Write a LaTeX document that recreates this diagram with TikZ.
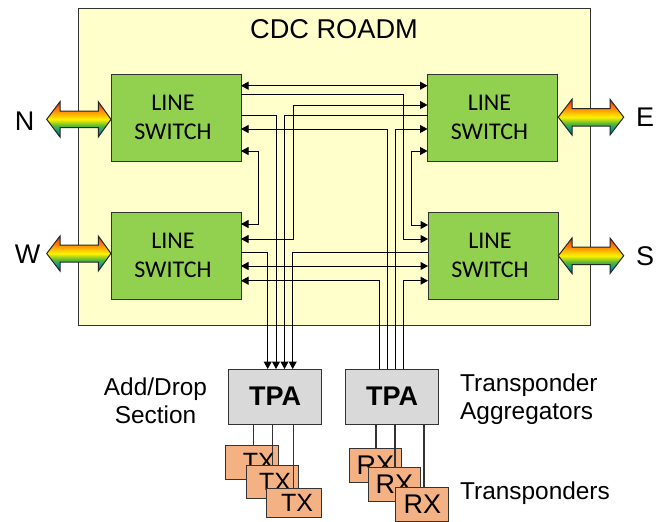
\documentclass[tikz,border=0pt]{standalone}
\usepackage{fontspec}
\setmainfont{Liberation Sans}
\newfontfamily\calib{Carlito}
\usetikzlibrary{arrows.meta}
\definecolor{panelfill}{HTML}{FFFFCC}
\definecolor{switchfill}{HTML}{92D050}
\definecolor{tpafill}{HTML}{D9D9D9}
\definecolor{xcvrfill}{HTML}{F4B183}
\definecolor{edge}{HTML}{333333}
\pgfdeclareverticalshading{rainbowv}{100bp}{
 rgb(0bp)=(0,0.30,0.80);
 rgb(25bp)=(0,0.30,0.80);
 rgb(33bp)=(0,0.60,0.55);
 rgb(41bp)=(0.35,0.72,0.20);
 rgb(50bp)=(1,0.95,0);
 rgb(59bp)=(1,0.65,0);
 rgb(68bp)=(1,0.35,0.05);
 rgb(75bp)=(0.90,0.10,0.10);
 rgb(100bp)=(0.90,0.10,0.10)}
\tikzset{
 panel/.style={draw=edge,line width=1pt,fill=panelfill},
 switchbox/.style={draw=edge,line width=1pt,fill=switchfill,minimum width=130pt,minimum height=87pt,outer sep=0pt,align=center,font=\calib\fontsize{24}{29.5}\selectfont},
 tpabox/.style={draw=edge,line width=1pt,fill=tpafill,minimum width=93pt,minimum height=55pt,outer sep=0pt,font=\fontsize{27}{30}\selectfont\bfseries},
 xcvr/.style={draw=edge,line width=1pt,fill=xcvrfill,outer sep=0pt,inner sep=0pt,font=\fontsize{25}{30}\selectfont},
 rxbox/.style={xcvr,font=\fontsize{27}{30}\selectfont},
 lbl/.style={font=\fontsize{27}{30}\selectfont},
 side/.style={font=\fontsize{24.4}{28.5}\selectfont,inner sep=0pt},
 link/.style={draw=black,line width=1pt},
 tip/.style={link,-{Triangle[length=7.5pt,width=8pt]}},
 tips/.style={link,{Triangle[length=7.5pt,width=8pt]}-{Triangle[length=7.5pt,width=8pt]}},
 drop/.style={draw=edge,line width=1.2pt},
 rainbow/.style={shading=rainbowv,draw=black!85,line width=1pt,line join=miter},
}
\newcommand{\bigarrow}[8]{% x1 b1 b2 x2 ytop shtop shbot ybot
 \path[rainbow] (#1,{(#5+#8)/2}) -- (#2,#5) -- (#2,#6) -- (#3,#6) -- (#3,#5) -- (#4,{(#5+#8)/2}) -- (#3,#8) -- (#3,#7) -- (#2,#7) -- (#2,#8) -- cycle;}
\newcommand{\swtext}{\hspace*{-6pt}LINE\\\hspace*{-6pt}SWITCH}
\begin{document}
\begin{tikzpicture}[x=1pt,y=-1pt]
\useasboundingbox (0,0) rectangle (670,522);
\path[panel] (78,8) rectangle (590,325.5);
\node[font=\fontsize{27.2}{30}\selectfont] (title) at (334,29) {CDC ROADM};
% switches
\node[switchbox] (tl) at (176,117.5) {\swtext};
\node[switchbox] (tr) at (492.5,117.5) {\swtext};
\node[switchbox] (bl) at (176,255.5) {\swtext};
\node[switchbox] (br) at (493,255.5) {\swtext};
% aggregators
\node[tpabox] (tpaL) at (275,396.5) {TPA};
\node[tpabox] (tpaR) at (392,396.5) {TPA};
% switch to switch
\draw[tips] (tl.east |- 0,85.7) -- (tr.west |- 0,85.7);
\draw[tips] (tl.east |- 0,266) -- (br.west |- 0,266);
\draw[tips] (tl.east |- 0,151) -| (258,224) -- (bl.east |- 0,224);
\draw[tips] (tr.west |- 0,151) -| (411,225) -- (br.west |- 0,225);
\draw[tips] (tr.west |- 0,105) -| (293,239) -- (bl.east |- 0,239);
\draw[tip] (tl.east |- 0,94.7) -| (403,239) -- (br.west |- 0,239);
% to left TPA
\draw[tip] (tl.east |- 0,115) -| (tpaL.north -| 276,0);
\draw[tip] (tr.west |- 0,115) -| (tpaL.north -| 284.5,0);
\draw[tip] (bl.east |- 0,252.7) -| (tpaL.north -| 267.7,0);
\draw[tip] (br.west |- 0,252.7) -| (tpaL.north -| 292.7,0);
% from right TPA
\draw[tip] (tpaR.north -| 387,0) |- (tl.east |- 0,129);
\draw[tip] (tpaR.north -| 395.7,0) |- (tr.west |- 0,129);
\draw[tip] (tpaR.north -| 379,0) |- (bl.east |- 0,280.7);
\draw[tip] (tpaR.north -| 403.7,0) |- (br.west |- 0,280.7);
% rainbow arrows
\bigarrow{46.7}{60}{98.3}{111}{101.7}{111}{127.7}{137}
\bigarrow{46.7}{60}{98.3}{111}{236}{245}{262}{271}
\bigarrow{558.3}{572}{610}{623.7}{99.3}{108.7}{126}{135}
\bigarrow{558.3}{572}{610}{623.7}{238}{247}{264.5}{273.5}
\node[lbl] (n) at (24.5,121.3) {N};
\node[lbl] (w) at (27.5,254.3) {W};
\node[lbl] (e) at (645,117.7) {E};
\node[lbl] (s) at (645,256) {S};
% transponders
\node[xcvr,minimum width=53pt,minimum height=34pt] (tx1) at (252.3,462) {\hspace*{13pt}TX};
\node[xcvr,minimum width=52pt,minimum height=33pt] (tx2) at (272,481.7) {\hspace*{6pt}TX};
\draw[drop] (tpaL.south -| 253.7,0) -- (tx1.north -| 253.7,0);
\draw[drop] (tpaL.south -| 272.7,0) -- (tx2.north -| 272.7,0);
\node[xcvr,minimum width=55pt,minimum height=29pt] (tx3) at (293.5,502.8) {\hspace*{7pt}TX};
\draw[drop] (tpaL.south -| 293.7,0) -- (tx3.north -| 293.7,0);
\node[rxbox,minimum width=52pt,minimum height=34pt] (rx1) at (375.5,465) {RX};
\node[rxbox,minimum width=52pt,minimum height=34pt] (rx2) at (394.5,484) {RX};
\draw[drop] (tpaR.south -| 376,0) -- (rx1.north -| 376,0);
\draw[drop] (tpaR.south -| 395,0) -- (rx2.north -| 395,0);
\node[rxbox,minimum width=53pt,minimum height=34pt] (rx3) at (422.3,504) {RX};
\draw[drop] (tpaR.south -| 424,0) -- (rx3.north -| 424,0);
% labels
\node[side,align=center] (ad) at (155.5,401) {Add/Drop\\Section};
\node[side,align=left,anchor=west] (ta) at (460,399) {Transponder\\Aggregators};
\node[side,anchor=west] (tp) at (460,493) {Transponders};
\end{tikzpicture}
\end{document}
